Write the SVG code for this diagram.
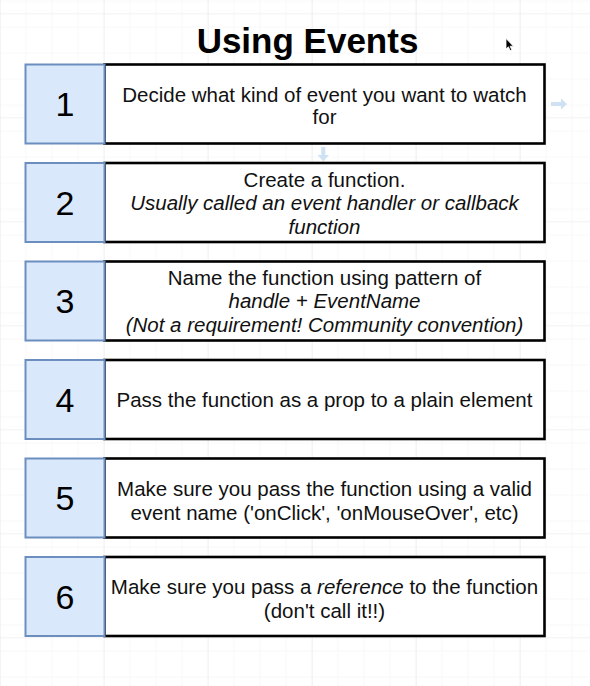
<svg xmlns="http://www.w3.org/2000/svg" width="590" height="686" viewBox="0 0 590 686">
  <defs>
    <pattern id="minorGrid" x="-0.3" y="13.3" width="26" height="26" patternUnits="userSpaceOnUse">
      <path d="M 0 0 L 26 0 M 0 0 L 0 26" fill="none" stroke="#f1f1f1" stroke-width="1"/>
    </pattern>
    <pattern id="majorGrid" x="-0.3" y="13.3" width="104" height="104" patternUnits="userSpaceOnUse">
      <rect width="104" height="104" fill="url(#minorGrid)"/>
      <path d="M 0 0 L 104 0 M 0 0 L 0 104" fill="none" stroke="#e6e6e6" stroke-width="1"/>
    </pattern>
  </defs>
  <style>
    .num { fill: #dae8fc; stroke: #6c8ebf; stroke-width: 2; }
    .body { fill: #ffffff; stroke: #000000; stroke-width: 2.6; }
    .digit { font-family: "Liberation Sans", Arial, Helvetica, sans-serif; font-size: 34px; fill: #000; text-anchor: middle; }
    .txt { font-family: "Liberation Sans", Arial, Helvetica, sans-serif; font-size: 20.5px; fill: #111; text-anchor: middle; }
    .it { font-style: italic; }
    .title { font-family: "Liberation Sans", Arial, Helvetica, sans-serif; font-size: 35px; font-weight: bold; fill: #000; text-anchor: middle; }
    .hint { fill: #cfe2f3; }
  </style>

  <!-- canvas background with grid -->
  <rect x="0" y="0" width="590" height="686" fill="#ffffff"/>
  <rect x="0" y="0" width="590" height="686" fill="url(#majorGrid)"/>

  <text class="title" x="307.5" y="53">Using Events</text>

  <!-- faint hover arrows -->
  <g id="connectors">
    <path class="hint" d="M 551 102 L 561 102 L 561 98.5 L 567 104 L 561 109.5 L 561 106 L 551 106 Z"/>
    <path class="hint" d="M 321.3 147 L 325.3 147 L 325.3 155 L 329 155 L 323.3 161.5 L 317.6 155 L 321.3 155 Z"/>
  </g>

  <g id="step1">
    <rect class="body" x="104.5" y="64.5" width="440" height="79"/>
    <rect class="num" x="25.5" y="64.5" width="79" height="79"/>
    <text class="digit" x="65" y="116">1</text>
    <text class="txt" x="324.5" y="101.5">Decide what kind of event you want to watch</text>
    <text class="txt" x="324.5" y="123.5">for</text>
  </g>

  <g id="step2">
    <rect class="body" x="104.5" y="163" width="440" height="79"/>
    <rect class="num" x="25.5" y="163" width="79" height="79"/>
    <text class="digit" x="65" y="214.5">2</text>
    <text class="txt" x="324.5" y="187">Create a function.</text>
    <text class="txt it" x="324.5" y="210.3">Usually called an event handler or callback</text>
    <text class="txt it" x="324.5" y="233.6">function</text>
  </g>

  <g id="step3">
    <rect class="body" x="104.5" y="261.5" width="440" height="79"/>
    <rect class="num" x="25.5" y="261.5" width="79" height="79"/>
    <text class="digit" x="65" y="313">3</text>
    <text class="txt" x="324.5" y="285">Name the function using pattern of</text>
    <text class="txt it" x="324.5" y="308.3">handle + EventName</text>
    <text class="txt it" x="324.5" y="331.6">(Not a requirement! Community convention)</text>
  </g>

  <g id="step4">
    <rect class="body" x="104.5" y="360" width="440" height="79"/>
    <rect class="num" x="25.5" y="360" width="79" height="79"/>
    <text class="digit" x="65" y="411.5">4</text>
    <text class="txt" x="324.5" y="407">Pass the function as a prop to a plain element</text>
  </g>

  <g id="step5">
    <rect class="body" x="104.5" y="458.5" width="440" height="79"/>
    <rect class="num" x="25.5" y="458.5" width="79" height="79"/>
    <text class="digit" x="65" y="510">5</text>
    <text class="txt" x="324.5" y="495.5">Make sure you pass the function using a valid</text>
    <text class="txt" x="324.5" y="519.5">event name ('onClick', 'onMouseOver', etc)</text>
  </g>

  <g id="step6">
    <rect class="body" x="104.5" y="557" width="440" height="79"/>
    <rect class="num" x="25.5" y="557" width="79" height="79"/>
    <text class="digit" x="65" y="608.5">6</text>
    <text class="txt" x="324.5" y="593.5">Make sure you pass a <tspan class="it">reference</tspan> to the function</text>
    <text class="txt" x="324.5" y="617.5">(don't call it!!)</text>
  </g>

  <!-- mouse pointer -->
  <path d="M 506 38.5 L 506 49 L 508.4 46.8 L 510.2 50.6 L 511.8 49.9 L 510.1 46.2 L 513.4 46.2 Z" fill="#000" stroke="#fff" stroke-width="0.8"/>
</svg>
